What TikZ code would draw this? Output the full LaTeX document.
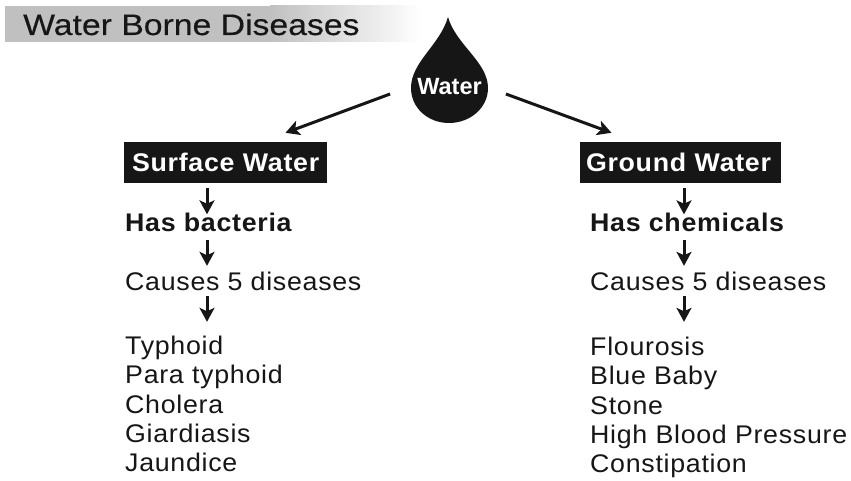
\documentclass[tikz,border=0pt]{standalone}
\usepackage{fontspec}
\usepackage{xcolor}
\usepackage{tikz}
\setmainfont[FakeStretch=1.05,LetterSpace=2.8]{Liberation Sans}
\newfontfamily\titlefont[FakeStretch=1.14,FakeBold=0.35]{Liberation Sans}
\newfontfamily\dropfont{Liberation Sans}
\definecolor{waterblack}{RGB}{22,22,22}
\definecolor{bargray}{RGB}{192,192,192}
\tikzset{
  plaintext/.style={anchor=base west,inner sep=0pt,text=waterblack,font=\fontsize{25.5}{28}\selectfont},
  boldtext/.style={plaintext,font=\fontsize{25.5}{28}\selectfont\bfseries},
  blackbox/.style={fill=waterblack,text=white,inner ysep=0pt,minimum height=41pt,align=left,font=\fontsize{25.5}{28}\selectfont\bfseries},
  arrowline/.style={draw=waterblack,line width=3pt,-{Stealth[length=14pt,width=15pt,inset=3.5pt]}}
}
\usetikzlibrary{arrows.meta}
\begin{document}
\begin{tikzpicture}[x=1pt,y=-1pt]
  \useasboundingbox (0,0) rectangle (851,481);
  \fill[bargray] (5,6) rectangle (270,42);
  \fill[left color=bargray,right color=white] (270,6) rectangle (421,42);
  \node[plaintext,font=\fontsize{29.6}{32}\titlefont] (title) at (23,35) {Water Borne Diseases};
  \fill[waterblack] (448,17) .. controls (440,45) and (411,62) .. (411,88) .. controls (411,108) and (428,123) .. (449,123) .. controls (470,123) and (488,108) .. (488,88) .. controls (488,62) and (456,45) .. (448,17) -- cycle;
  \node[text=white,inner sep=0pt,font=\fontsize{23.5}{26}\dropfont\bfseries] (water) at (449.5,87) {Water};
  \node[blackbox,text width=187pt,inner xsep=8pt] (surface) at (225.5,162.5) {Surface Water};
  \node[blackbox,text width=189pt,inner xsep=6pt] (ground) at (680.5,162.5) {Ground Water};
  \node[boldtext] (bacteria) at (125,232) {Has bacteria};
  \node[plaintext] (causesa) at (125,290) {Causes 5 diseases};
  \node[plaintext] (typhoid) at (125,354) {Typhoid};
  \node[plaintext] (para) at (125,383) {Para typhoid};
  \node[plaintext] (cholera) at (125,413) {Cholera};
  \node[plaintext] (giardia) at (125,442) {Giardiasis};
  \node[plaintext] (jaundice) at (125,471) {Jaundice};
  \node[boldtext] (chemicals) at (590,232) {Has chemicals};
  \node[plaintext] (causesb) at (590,290) {Causes 5 diseases};
  \node[plaintext] (flourosis) at (590,355) {Flourosis};
  \node[plaintext] (bluebaby) at (590,384) {Blue Baby};
  \node[plaintext] (stone) at (590,414) {Stone};
  \node[plaintext] (pressure) at (590,443) {High Blood Pressure};
  \node[plaintext] (constipation) at (590,472) {Constipation};
  \draw[arrowline] ([shift={(-27,7)}]water.west) -- ([shift={(60,-9)}]surface.north);
  \draw[arrowline] ([shift={(24,7)}]water.east) -- ([shift={(-69,-9)}]ground.north);
  \coordinate (leftaxis) at (207,200);
  \coordinate (rightaxis) at (684,200);
  \draw[arrowline] ([yshift=-5pt]leftaxis |- surface.south) -- ([yshift=-1pt]leftaxis |- bacteria.north);
  \draw[arrowline] ([yshift=-8pt]leftaxis |- bacteria.base) -- ([yshift=5.5pt]leftaxis |- causesa.north);
  \draw[arrowline] ([yshift=-6pt]leftaxis |- causesa.base) -- ([yshift=13.5pt]leftaxis |- typhoid.north);
  \draw[arrowline] ([yshift=-5pt]rightaxis |- ground.south) -- ([yshift=-1pt]rightaxis |- chemicals.north);
  \draw[arrowline] ([yshift=-8pt]rightaxis |- chemicals.base) -- ([yshift=5.5pt]rightaxis |- causesb.north);
  \draw[arrowline] ([yshift=-6pt]rightaxis |- causesb.base) -- ([yshift=14.5pt]rightaxis |- flourosis.north);
\end{tikzpicture}
\end{document}
